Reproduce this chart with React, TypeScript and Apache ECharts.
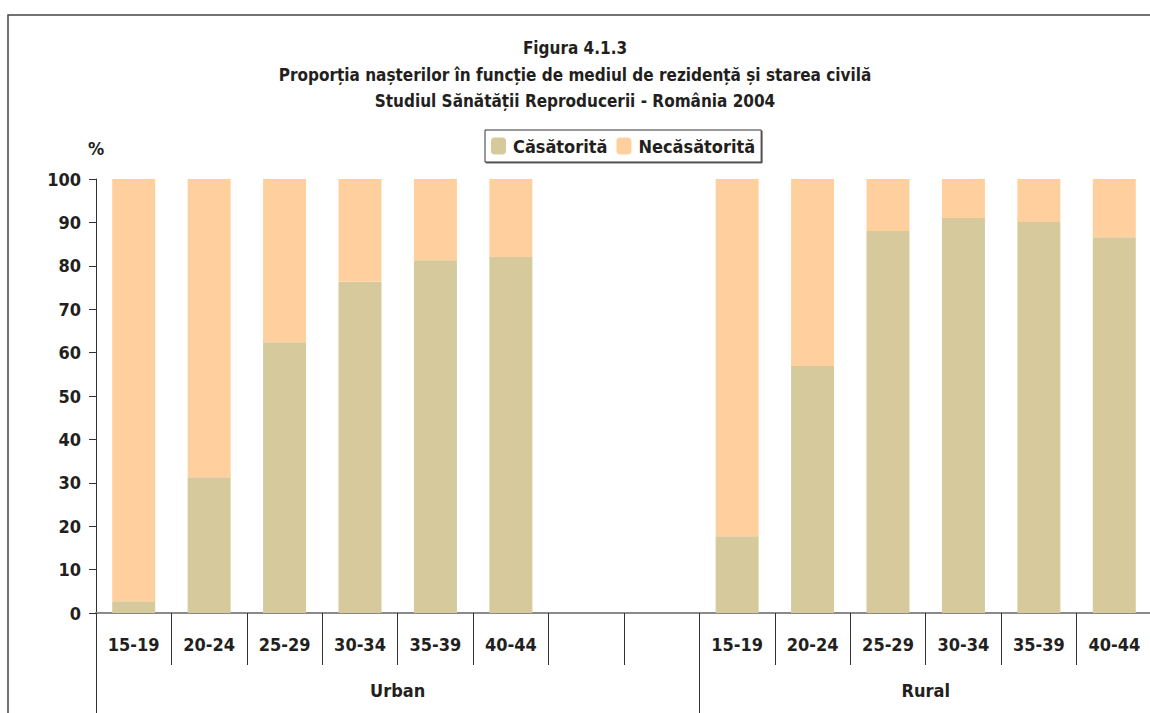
import React, { useEffect, useRef } from "react";
import * as echarts from "echarts";

const ageGroups = ["15-19", "20-24", "25-29", "30-34", "35-39", "40-44"];
const gapSlots = ["", ""];
const categories = [...ageGroups, ...gapSlots, ...ageGroups];

const urbanMarried = [2.7, 31.3, 62.4, 76.3, 81.3, 82.0];
const ruralMarried = [17.7, 56.9, 88.0, 91.0, 90.1, 86.6];

const marriedValues = [...urbanMarried, null, null, ...ruralMarried];
const unmarriedValues = marriedValues.map((v) => (v == null ? null : +(100 - v).toFixed(1)));

const groupNames = ["Urban", "Rural"];
const groupAxis = ["", "", "", "", groupNames[0], "", "", "", "", "", "", groupNames[1], "", "", ""];

const seriesNames = ["Căsătorită", "Necăsătorită"];
const yTicks = { min: 0, max: 100, interval: 10 };

const FONT = "'Liberation Sans Narrow', 'DejaVu Sans Condensed', 'Arial Narrow', sans-serif";
const TEXT = "#231f20";

export default function App() {
  const ref = useRef<HTMLDivElement>(null);
  useEffect(() => {
    document.body.style.margin = "0";
    const chart = echarts.init(ref.current!, null, { renderer: "svg" });
    chart.setOption({
      animation: false,
      textStyle: { fontFamily: FONT },
      title: {
        text: "Figura 4.1.3\nProporția nașterilor în funcție de mediul de rezidență și starea civilă\nStudiul Sănătății Reproducerii - România 2004",
        left: "center",
        top: 30,
        textStyle: {
          fontFamily: FONT,
          fontSize: 17,
          fontWeight: "bold",
          color: TEXT,
          lineHeight: 26.5,
          align: "center",
        },
      },
      legend: {
        left: 485,
        top: 130,
        itemWidth: 15,
        itemHeight: 17,
        itemGap: 9,
        padding: [7, 6, 7, 6],
        borderColor: "#333",
        borderWidth: 1,
        shadowColor: "rgba(0,0,0,0.6)",
        shadowOffsetX: 1,
        shadowOffsetY: 1,
        shadowBlur: 0,
        backgroundColor: "#fff",
        textStyle: { fontFamily: FONT, fontSize: 18, fontWeight: "bold", color: TEXT, padding: [0, 0, 0, 2] },
        data: seriesNames,
        selectedMode: false,
      },
      graphic: [
        {
          type: "rect",
          shape: { x: 8, y: 15, width: 1300, height: 900 },
          style: { fill: "none", stroke: "#444", lineWidth: 1.5 },
          silent: true,
        },
      ],
      grid: { left: 96, top: 179, width: 1056, bottom: 100, containLabel: false, outerBoundsMode: "none" },
      xAxis: [
        {
          type: "category",
          data: categories,
          position: "bottom",
          axisLine: { show: true, lineStyle: { color: "#8a8a8a", width: 2 } },
          axisTick: { show: true, length: 52, lineStyle: { color: "#333", width: 1 } },
          axisLabel: { interval: 0, margin: 22, fontFamily: FONT, fontSize: 18, fontWeight: "bold", color: TEXT },
        },
        {
          type: "category",
          data: groupAxis,
          position: "bottom",
          offset: 0,
          boundaryGap: false,
          axisLine: { show: false },
          axisTick: {
            show: true,
            length: 100,
            interval: (i: number) => i === 0 || i === 8,
            lineStyle: { color: "#333", width: 1 },
          },
          axisLabel: { interval: 0, margin: 68, fontFamily: FONT, fontSize: 18, fontWeight: "bold", color: TEXT },
        },
      ],
      yAxis: {
        type: "value",
        min: yTicks.min,
        max: yTicks.max,
        interval: yTicks.interval,
        name: "%",
        nameLocation: "end",
        nameGap: 22,
        nameTextStyle: { fontFamily: FONT, fontSize: 18, fontWeight: "bold", color: TEXT, align: "center" },
        splitLine: { show: false },
        axisLine: { show: true, lineStyle: { color: "#333", width: 1 } },
        axisTick: { show: true, length: 7, lineStyle: { color: "#333" } },
        axisLabel: { margin: 15, fontFamily: FONT, fontSize: 18, fontWeight: "bold", color: TEXT },
      },
      series: [
        {
          name: seriesNames[0],
          type: "bar",
          stack: "total",
          xAxisIndex: 0,
          barWidth: "57%",
          itemStyle: { color: "#d6ca9c" },
          data: marriedValues,
        },
        {
          name: seriesNames[1],
          type: "bar",
          stack: "total",
          xAxisIndex: 0,
          barWidth: "57%",
          itemStyle: { color: "#ffcf9e" },
          data: unmarriedValues,
        },
      ],
    });
    return () => chart.dispose();
  }, []);
  return <div ref={ref} style={{ width: 1150, height: 713 }} />;
}
